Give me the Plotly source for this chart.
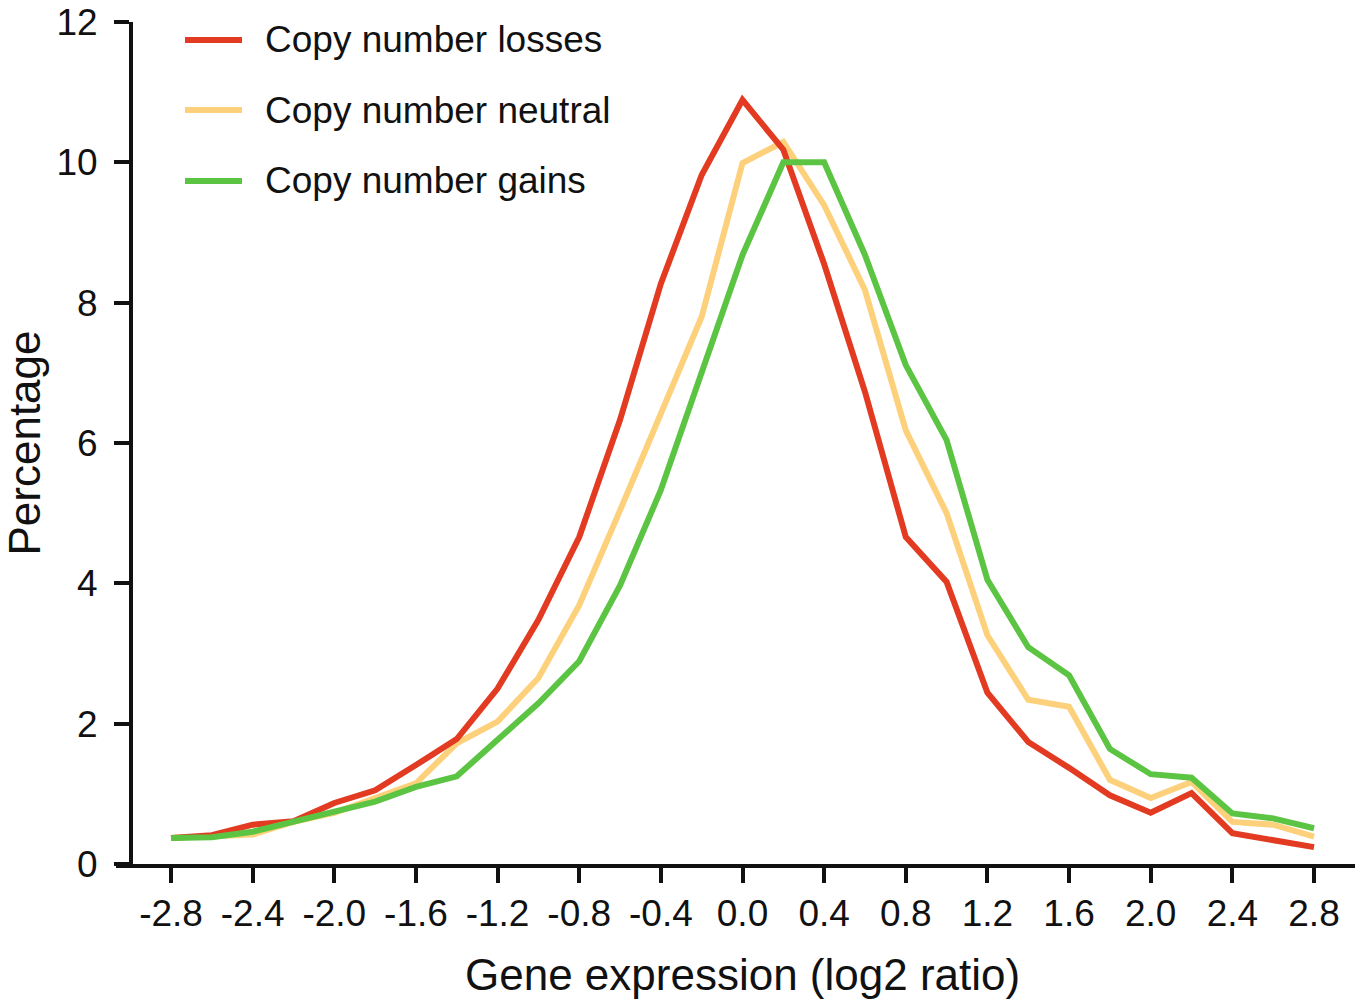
import plotly.graph_objects as go

x_vals = [-2.8, -2.6, -2.4, -2.2, -2.0, -1.8, -1.6, -1.4, -1.2, -1.0, -0.8, -0.6, -0.4, -0.2,
          0.0, 0.2, 0.4, 0.6, 0.8, 1.0, 1.2, 1.4, 1.6, 1.8, 2.0, 2.2, 2.4, 2.6, 2.8]

losses = [0.37, 0.41, 0.56, 0.61, 0.87, 1.05, 1.41, 1.78, 2.50, 3.48, 4.66, 6.33, 8.27, 9.82,
          10.89, 10.18, 8.55, 6.73, 4.66, 4.02, 2.44, 1.74, 1.37, 0.98, 0.73, 1.01, 0.44, 0.34, 0.24]

neutral = [0.37, 0.40, 0.42, 0.60, 0.73, 0.94, 1.15, 1.72, 2.03, 2.65, 3.69, 5.04, 6.44, 7.80,
           9.99, 10.29, 9.39, 8.18, 6.18, 5.00, 3.26, 2.34, 2.24, 1.20, 0.94, 1.17, 0.60, 0.56, 0.39]

gains = [0.37, 0.38, 0.46, 0.60, 0.73, 0.89, 1.10, 1.25, 1.77, 2.29, 2.89, 3.97, 5.33, 7.00,
         8.68, 10.00, 10.00, 8.68, 7.11, 6.04, 4.05, 3.09, 2.69, 1.64, 1.28, 1.23, 0.72, 0.65, 0.51]

series_names = ["Copy number losses", "Copy number neutral", "Copy number gains"]
series_colors = ["#E23B22", "#FDD17C", "#5CC443"]

x_tickvals = [-2.8, -2.4, -2.0, -1.6, -1.2, -0.8, -0.4, 0.0, 0.4, 0.8, 1.2, 1.6, 2.0, 2.4, 2.8]
x_ticktext = ["-2.8", "-2.4", "-2.0", "-1.6", "-1.2", "-0.8", "-0.4", "0.0", "0.4", "0.8",
              "1.2", "1.6", "2.0", "2.4", "2.8"]
y_tickvals = [0, 2, 4, 6, 8, 10, 12]

x_title = "Gene expression (log2 ratio)"
y_title = "Percentage"

FONT = "Liberation Sans, Arial, Helvetica, sans-serif"
INK = "#111111"

# body margin is removed by post_script, so the figure sits at the page origin
W, H = 1363, 1002
ML, MR, MT, MB = 116, 8, 22, 1002 - 864
PW, PH = W - ML - MR, H - MT - MB


def px_to_paper_x(px):
    return (px - ML) / PW


def px_to_paper_y(py):
    return (H - MB - py) / PH


fig = go.Figure()
data_by_name = {series_names[0]: losses, series_names[1]: neutral, series_names[2]: gains}
draw_order = [1, 0, 2]
for i in draw_order:
    fig.add_trace(go.Scatter(
        x=x_vals, y=data_by_name[series_names[i]], mode="lines",
        name=series_names[i],
        line=dict(color=series_colors[i], width=6),
        showlegend=False,
    ))

# manual legend (keys + labels), positioned in paper coordinates
legend_rows_px = [40, 110, 181]
shapes = []
annotations = []
for i, name in enumerate(series_names):
    yp = px_to_paper_y(legend_rows_px[i])
    shapes.append(dict(type="line", xref="paper", yref="paper",
                       x0=px_to_paper_x(185), x1=px_to_paper_x(242), y0=yp, y1=yp,
                       line=dict(color=series_colors[i], width=6)))
    annotations.append(dict(text=name, xref="paper", yref="paper",
                            x=px_to_paper_x(263), y=yp, xanchor="left", yanchor="middle",
                            showarrow=False,
                            font=dict(size=37, family=FONT, color=INK)))

# x-axis title as annotation (axis titles are constrained inside margins)
annotations.append(dict(text=x_title, xref="paper", yref="paper",
                        x=px_to_paper_x(742), y=px_to_paper_y(975),
                        xanchor="center", yanchor="middle", showarrow=False,
                        font=dict(size=44, family=FONT, color=INK)))

fig.update_layout(
    width=W, height=H,
    margin=dict(l=ML, r=MR, t=MT, b=MB, pad=0),
    paper_bgcolor="white", plot_bgcolor="white",
    font=dict(family=FONT, color=INK, size=37),
    showlegend=False,
    shapes=shapes, annotations=annotations,
    xaxis=dict(
        range=[-3.0695, 3.0009], automargin=False,
        tickvals=x_tickvals, ticktext=x_ticktext,
        showgrid=False, zeroline=False,
        showline=True, linecolor=INK, linewidth=4,
        ticks="outside", ticklen=15, tickwidth=4, tickcolor=INK,
        tickfont=dict(size=37, family=FONT, color=INK),
        ticklabelstandoff=-1, ticklabeloverflow="allow",
    ),
    yaxis=dict(
        range=[0, 12], automargin=False,
        anchor="free", position=px_to_paper_x(131),
        tickvals=y_tickvals,
        showgrid=False, zeroline=False,
        showline=True, linecolor=INK, linewidth=4,
        ticks="outside", ticklen=15, tickwidth=4, tickcolor=INK,
        tickfont=dict(size=37, family=FONT, color=INK),
        ticklabelstandoff=9, ticklabeloverflow="allow",
        title=dict(text=y_title, font=dict(size=44, family=FONT, color=INK), standoff=4),
    ),
)

fig.write_html("out.html", config={"displayModeBar": False},
               post_script="document.body.style.margin='0px';")
